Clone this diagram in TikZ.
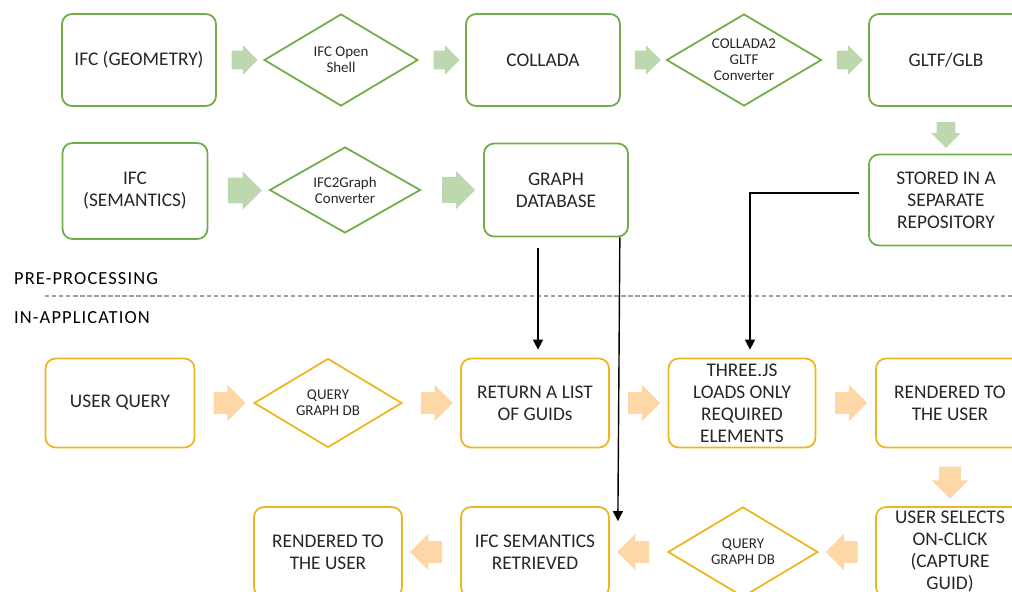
\documentclass[tikz,border=0pt]{standalone}
\usepackage{fontspec}
\setmainfont{Carlito}
\usepackage{xcolor}
\usetikzlibrary{shapes.geometric,shapes.arrows,arrows.meta,calc}
\definecolor{verd}{HTML}{70AD47}
\definecolor{verdclar}{HTML}{BDD7AE}
\definecolor{groc}{HTML}{EDB51E}
\definecolor{presseg}{HTML}{FDD8A6}
\definecolor{text}{HTML}{262626}

\tikzset{
  caixa/.style={draw, line width=1pt, rounded corners=0.2cm, align=center,
    text=text, font=\fontsize{11}{12.5}\selectfont, inner sep=0pt},
  rombe/.style={draw, line width=1pt, diamond, aspect=1.7, align=center,
    text=text, font=\fontsize{8.5}{9}\selectfont, inner sep=0pt},
  fletxa/.style={single arrow, draw=none, inner xsep=0pt, minimum height=#1},
  gfletxa/.style={fletxa=0.52cm, fill=verdclar, inner ysep=0.18cm, single arrow head extend=0.11cm},
  ofletxa/.style={fletxa=0.64cm, fill=presseg, inner ysep=0.21cm, single arrow head extend=0.15cm},
  conn/.style={draw=black, line width=0.8pt, -{Triangle[length=0.2cm,width=0.2cm]}},
  etiqueta/.style={anchor=west, text=black, font=\fontsize{10.5}{12}\selectfont\addfontfeature{LetterSpace=6}}
}

\begin{document}
\begin{tikzpicture}[x=0.02cm, y=-0.02cm]
	\useasboundingbox (0,0) rectangle (1012,592);

	% geometria
	\node[caixa, draw=verd, minimum width=3.08cm, minimum height=1.84cm] (geo) at (139,60) {IFC (GEOMETRY)};
	\node[rombe, draw=verd, minimum width=3.08cm, minimum height=1.84cm] (shell) at (341,60) {IFC Open\\Shell};
	\node[caixa, draw=verd, minimum width=3.08cm, minimum height=1.84cm] (collada) at (543,60) {COLLADA};
	\node[rombe, draw=verd, minimum width=3.1cm, minimum height=1.84cm] (conv) at (744,60) {COLLADA2\\GLTF\\Converter};
	\node[caixa, draw=verd, minimum width=3.08cm, minimum height=1.84cm] (gltf) at (946,60) {GLTF/GLB};
	\node[caixa, draw=verd, minimum width=3.08cm, minimum height=1.82cm] (stored) at (946,200) {STORED IN A\\SEPARATE\\REPOSITORY};

	% semantica
	\node[caixa, draw=verd, minimum width=2.9cm, minimum height=1.92cm] (sem) at (135,191) {IFC\\(SEMANTICS)};
	\node[rombe, draw=verd, minimum width=3.02cm, minimum height=1.72cm] (ifcgraph) at (345,190) {IFC2Graph\\Converter};
	\node[caixa, draw=verd, minimum width=2.88cm, minimum height=1.86cm] (graphdb) at (556,190) {GRAPH\\DATABASE};

	% fletxes verdes
	\node[gfletxa] at ($(geo.east)!0.5!(shell.west)$) {};
	\node[gfletxa] at ($(shell.east)!0.5!(collada.west)$) {};
	\node[gfletxa] at ($(collada.east)!0.5!(conv.west)$) {};
	\node[gfletxa] at ($(conv.east)!0.5!(gltf.west)$) {};
	\node[gfletxa, rotate=-90] at ($(gltf.south)!0.5!(stored.north)$) {};
	\node[gfletxa, minimum height=0.68cm, inner ysep=0.25cm, single arrow head extend=0.13cm] at ($(sem.east)!0.5!(ifcgraph.west)$) {};
	\node[gfletxa, minimum height=0.66cm, inner ysep=0.25cm, single arrow head extend=0.13cm] at ($(ifcgraph.east)!0.5!(graphdb.west)$) {};

	% separacio
	\draw[gray!75, line width=0.6pt, dash pattern=on 2.5pt off 1.5pt] (45,296) -- (1012,296);
	\node[etiqueta] (pre) at (8,279) {PRE-PROCESSING};
	\node[etiqueta] (app) at (8,318) {IN-APPLICATION};

	% aplicacio
	\node[caixa, draw=groc, minimum width=2.98cm, minimum height=1.78cm] (query) at (120,403) {USER QUERY};
	\node[rombe, draw=groc, minimum width=2.96cm, minimum height=1.78cm] (qdb) at (328,403) {QUERY\\GRAPH DB};
	\node[caixa, draw=groc, minimum width=2.96cm, minimum height=1.78cm] (guids) at (535,403) {RETURN A LIST\\OF GUIDs};
	\node[caixa, draw=groc, minimum width=2.94cm, minimum height=1.78cm] (three) at (742,403) {THREE.JS\\LOADS ONLY\\REQUIRED\\ELEMENTS};
	\node[caixa, draw=groc, minimum width=2.96cm, minimum height=1.78cm] (rend) at (950,403) {RENDERED TO\\THE USER};
	\node[caixa, draw=groc, minimum width=2.96cm, minimum height=1.8cm] (select) at (950,552) {USER SELECTS\\ON-CLICK\\(CAPTURE\\GUID)};
	\node[rombe, draw=groc, minimum width=3cm, minimum height=1.8cm] (qdbb) at (743,552) {QUERY\\GRAPH DB};
	\node[caixa, draw=groc, minimum width=2.96cm, minimum height=1.8cm] (semret) at (535,552) {IFC SEMANTICS\\RETRIEVED};
	\node[caixa, draw=groc, minimum width=2.96cm, minimum height=1.8cm] (rendb) at (328,552) {RENDERED TO\\THE USER};

	% fletxes taronja
	\node[ofletxa] at ($(query.east)!0.5!(qdb.west)$) {};
	\node[ofletxa] at ($(qdb.east)!0.5!(guids.west)$) {};
	\node[ofletxa] at ($(guids.east)!0.5!(three.west)$) {};
	\node[ofletxa] at ($(three.east)!0.5!(rend.west)$) {};
	\node[ofletxa, rotate=-90] at ($(rend.south)!0.5!(select.north)$) {};
	\node[ofletxa, rotate=180] at ($(select.west)!0.5!(qdbb.east)$) {};
	\node[ofletxa, rotate=180] at ($(qdbb.west)!0.5!(semret.east)$) {};
	\node[ofletxa, rotate=180] at ($(semret.west)!0.5!(rendb.east)$) {};

	% connexions
	\draw[conn] ([shift={(-18,11)}]graphdb.south) -- ([shift={(3,-8)}]guids.north);
	\draw[conn] ([xshift=-0.18cm]graphdb.south east) -- ($(semret.north east)+(8,15)$);
	\draw[conn] ([shift={(-9,-7)}]stored.west) -| ([shift={(8,-8)}]three.north);
\end{tikzpicture}
\end{document}
